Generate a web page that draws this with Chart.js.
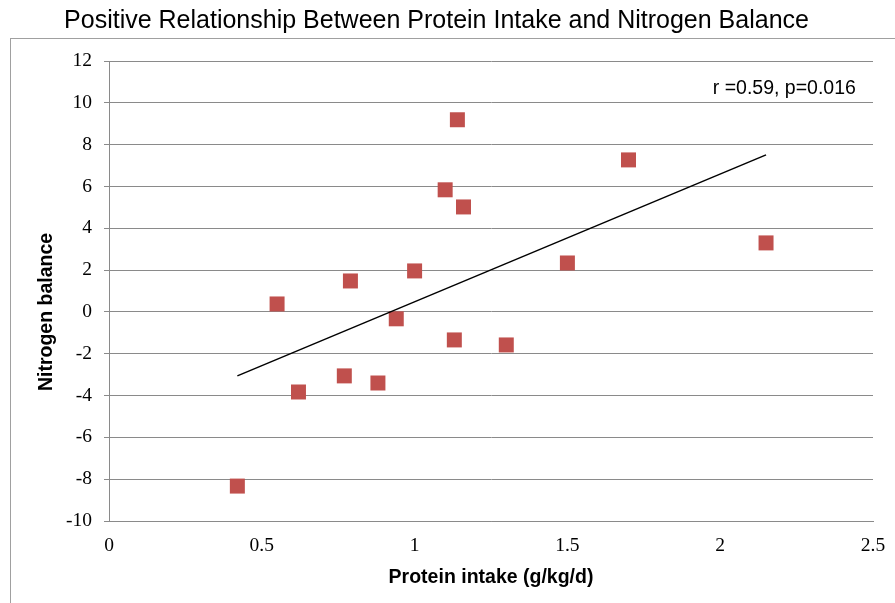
<!DOCTYPE html>
<html>
<head>
<meta charset="utf-8">
<script src="https://cdn.jsdelivr.net/npm/chart.js@4"></script>
<style>
html,body{margin:0;padding:0;background:#fff;}
#wrap{width:895px;height:603px;position:relative;}
</style>
</head>
<body>
<div id="wrap"><canvas id="c" width="895" height="603"></canvas></div>
<script>
const titleText = "Positive Relationship Between Protein Intake and Nitrogen Balance";
const xTitle = "Protein intake (g/kg/d)";
const yTitle = "Nitrogen balance";
const annotationText = "r =0.59, p=0.016";
const proteinIntake = [0.42, 0.55, 0.62, 0.77, 0.79, 0.88, 0.94, 1.00, 1.10, 1.14, 1.13, 1.16, 1.30, 1.50, 1.70, 2.15];
const nitrogenBalance = [-8.33, 0.38, -3.83, -3.06, 1.48, -3.40, -0.33, 1.96, 5.84, 9.19, -1.34, 5.02, -1.58, 2.34, 7.27, 3.30];
const trendX = [0.42, 2.15];
const trendY = [-3.06, 7.51];
const annotationPos = [2.444, 10.7];

const scatterData = proteinIntake.map((x, i) => ({x: x, y: nitrogenBalance[i]}));
const trendData = trendX.map((x, i) => ({x: x, y: trendY[i]}));

const frame = {
  id: 'frame',
  beforeDraw(chart) {
    const ctx = chart.ctx;
    ctx.save();
    ctx.strokeStyle = '#a0a0a0';
    ctx.lineWidth = 1;
    ctx.strokeRect(10.5, 38.5, 1000, 1000);
    ctx.restore();
  },
  afterDatasetsDraw(chart) {
    const ctx = chart.ctx;
    const xs = chart.scales.x, ys = chart.scales.y;
    ctx.save();
    ctx.font = '19.5px "Liberation Sans", Arial, sans-serif';
    ctx.fillStyle = '#000';
    ctx.textAlign = 'right';
    ctx.textBaseline = 'middle';
    ctx.fillText(annotationText, xs.getPixelForValue(annotationPos[0]), ys.getPixelForValue(annotationPos[1]));
    // y-axis title
    ctx.translate(47, 312);
    ctx.rotate(-Math.PI / 2);
    ctx.textAlign = 'center';
    ctx.font = 'bold 19.5px "Liberation Sans", Arial, sans-serif';
    ctx.fillText(yTitle, 0, 0);
    ctx.restore();
  }
};

const tickFont = {family: '"Liberation Serif", "Times New Roman", serif', size: 19.5};

new Chart(document.getElementById('c'), {
  type: 'scatter',
  data: {
    datasets: [
      {
        label: 'Data',
        data: scatterData,
        pointStyle: 'rect',
        pointRadius: 10.6,
        pointHoverRadius: 10.6,
        backgroundColor: '#C0504D',
        borderColor: '#C0504D',
        borderWidth: 0,
        order: 2
      },
      {
        label: 'Trend',
        type: 'line',
        data: trendData,
        borderColor: '#000',
        borderWidth: 1.5,
        pointRadius: 0,
        fill: false,
        order: 1
      }
    ]
  },
  options: {
    responsive: false,
    animation: false,
    devicePixelRatio: 1,
    layout: {padding: {left: 0, right: 22, top: 0, bottom: 0}},
    plugins: {
      legend: {display: false},
      tooltip: {enabled: false},
      title: {
        display: true,
        text: titleText,
        color: '#000',
        font: {family: '"Liberation Sans", Arial, sans-serif', size: 25, weight: 'normal'},
        padding: {top: 6, bottom: 25}
      }
    },
    scales: {
      x: {
        type: 'linear',
        min: 0, max: 2.5,
        ticks: {stepSize: 0.5, color: '#000', padding: 13, font: tickFont,
          callback: (v) => String(v)},
        grid: {display: false, drawTicks: false, tickLength: 0},
        border: {display: true, color: '#8a8a8a', width: 1},
        title: {display: true, text: xTitle, color: '#000',
          font: {family: '"Liberation Sans", Arial, sans-serif', size: 19.5, weight: 'bold'},
          padding: {top: 0, bottom: 14}},
        afterFit(s) { s.height = 82; s.paddingRight = 0; s.paddingLeft = 0; }
      },
      y: {
        type: 'linear',
        min: -10, max: 12,
        ticks: {stepSize: 2, color: '#000', padding: 12, font: tickFont},
        grid: {color: '#8a8a8a', lineWidth: 1, drawTicks: true, tickLength: 5},
        border: {display: true, color: '#8a8a8a', width: 1},
        title: {display: false},
        afterFit(s) { s.width = 109; }
      }
    }
  },
  plugins: [frame]
});
</script>
</body>
</html>
